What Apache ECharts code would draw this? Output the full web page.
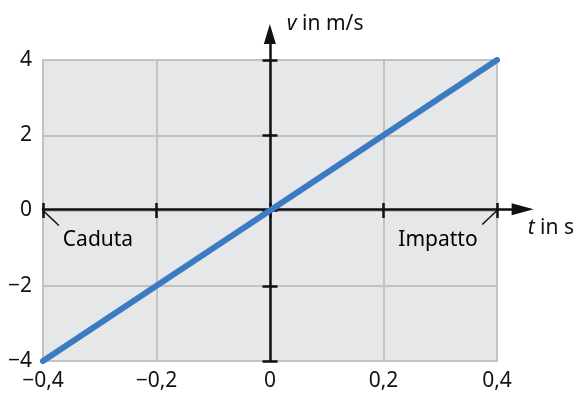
<!DOCTYPE html>
<html>
<head>
<meta charset="utf-8">
<script src="https://cdn.jsdelivr.net/npm/echarts@6/dist/echarts.min.js"></script>
<style>
  html, body { margin: 0; padding: 0; background: #fff; }
  #chart { width: 577px; height: 396px; }
</style>
</head>
<body>
<div id="chart"></div>
<script>
// velocità lineare nel tempo: v = 10·t
const tValues = [-0.4, -0.2, 0, 0.2, 0.4];
const vValues = [-4, -2, 0, 2, 4];

// annotazioni sull'asse t (punto sull'asse e fine del trattino)
const noteNames = ['Caduta', 'Impatto'];
const noteT = [-0.4, 0.4];
const noteV = [0, 0];
const noteEndT = [-0.372, 0.374];
const noteEndV = [-0.4, -0.37];

const FONT = 'Noto Sans';
const fmt = v => {
    const a = String(Math.round(Math.abs(v) * 10) / 10).replace('.', ',');
    return (v < 0 ? '\u2212' : '') + a;
};

const tickAxis = (extra) => Object.assign({
    type: 'value',
    gridIndex: 0,
    axisLine: { show: false, onZero: true, onZeroAxisIndex: 0 },
    axisTick: { show: true, length: 7.5, lineStyle: { color: '#111', width: 2.5 } },
    axisLabel: { show: false },
    splitLine: { show: false }
}, extra);

const axisLineStyle = { color: '#111', width: 2.5 };
const nameStyle = (pad) => ({
    color: '#111', fontSize: 21, fontFamily: FONT, align: 'left',
    verticalAlign: 'middle', padding: pad,
    rich: { i: { fontStyle: 'italic', fontSize: 21, fontFamily: FONT, color: '#111' } }
});

const option = {
    animation: false,
    textStyle: { fontFamily: FONT },
    grid: [
        { left: 43, right: 80, top: 60, bottom: 35, show: true,
          backgroundColor: '#e6e7e9', borderColor: '#c2c2c2', borderWidth: 2 },
        { left: 43, right: 54, top: 34, bottom: 35 }
    ],
    xAxis: [
        { type: 'value', gridIndex: 0, min: -0.4, max: 0.4, interval: 0.2, position: 'bottom',
          axisLine: { show: false, onZero: false }, axisTick: { show: false },
          axisLabel: { margin: 10, color: '#111', fontSize: 21, fontFamily: FONT, formatter: fmt },
          splitLine: { show: true, lineStyle: { color: '#c2c2c2', width: 2 } } },
        tickAxis({ min: -0.4, max: 0.4, interval: 0.2, position: 'bottom' }),
        tickAxis({ min: -0.4, max: 0.4, interval: 0.2, position: 'top' }),
        { type: 'value', gridIndex: 1, min: -0.4, max: 0.4458,
          axisLine: { show: true, onZero: true, symbol: ['none', 'triangle'], symbolSize: [12, 22],
                      lineStyle: axisLineStyle },
          axisTick: { show: false }, axisLabel: { show: false }, splitLine: { show: false },
          name: '{i|t} in s', nameLocation: 'end', nameGap: 5,
          nameTextStyle: nameStyle([38, 0, 0, 0]) }
    ],
    yAxis: [
        { type: 'value', gridIndex: 0, min: -4, max: 4, interval: 2, position: 'left',
          axisLine: { show: false, onZero: false }, axisTick: { show: false },
          axisLabel: { margin: 11, color: '#111', fontSize: 21, fontFamily: FONT, formatter: fmt },
          splitLine: { show: true, lineStyle: { color: '#c2c2c2', width: 2 } } },
        tickAxis({ min: -4, max: 4, interval: 2, position: 'left' }),
        tickAxis({ min: -4, max: 4, interval: 2, position: 'right' }),
        { type: 'value', gridIndex: 1, min: -4, max: 4.62,
          axisLine: { show: true, onZero: true, symbol: ['none', 'triangle'], symbolSize: [12, 20],
                      lineStyle: axisLineStyle },
          axisTick: { show: false }, axisLabel: { show: false }, splitLine: { show: false },
          name: '{i|v} in m/s', nameLocation: 'end', nameGap: 10,
          nameTextStyle: nameStyle([0, 0, 0, 17]) }
    ],
    series: [
        {
            type: 'line',
            xAxisIndex: 0, yAxisIndex: 0,
            data: tValues.map((t, i) => [t, vValues[i]]),
            showSymbol: false,
            lineStyle: { color: '#3a7bc2', width: 6, cap: 'round' },
            z: 5
        },
        ...noteNames.map((n, i) => ({
            type: 'line',
            xAxisIndex: 0, yAxisIndex: 0,
            data: [[noteT[i], noteV[i]], [noteEndT[i], noteEndV[i]]],
            showSymbol: false,
            silent: true,
            lineStyle: { color: '#111', width: 1.5 },
            z: 4
        })),
        {
            type: 'scatter',
            xAxisIndex: 0, yAxisIndex: 0,
            data: noteNames.map((n, i) => ({
                name: n, value: [noteT[i], noteV[i]],
                label: { offset: i === 0 ? [55, 30] : [-59, 30] }
            })),
            symbolSize: 1,
            itemStyle: { color: '#111', opacity: 0 },
            label: { show: true, position: 'inside', formatter: '{b}',
                     color: '#000', fontSize: 21, fontFamily: FONT,
                     textBorderWidth: 0, opacity: 1 },
            z: 6
        }
    ]
};

const chart = echarts.init(document.getElementById('chart'));
chart.setOption(option);
</script>
</body>
</html>
